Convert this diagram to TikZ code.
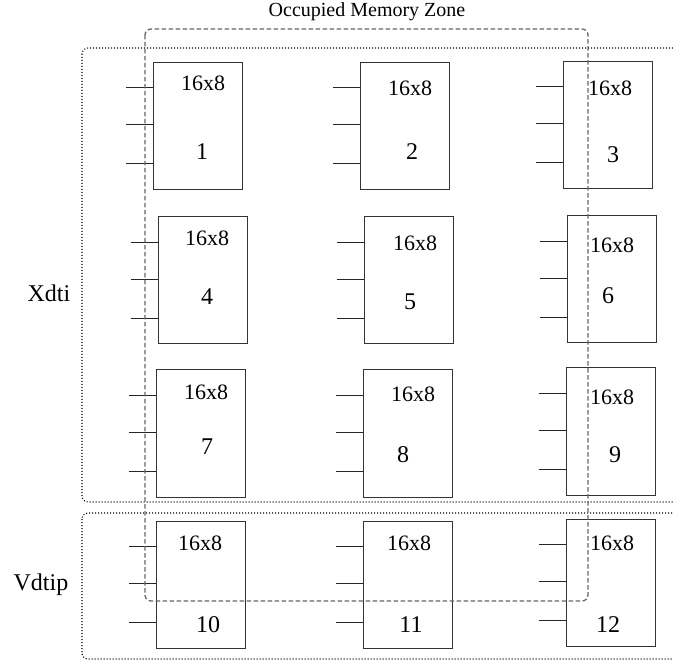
\documentclass[tikz,border=0pt]{standalone}
\usepackage{fontspec}
\setmainfont{Liberation Serif}
\usetikzlibrary{calc}
\begin{document}
\begin{tikzpicture}[x=1pt,y=-1pt,
  memblock/.style={draw=black!80, line width=1pt, minimum width=89pt, minimum height=127pt, inner sep=0pt},
  stub/.style={draw=black!85, line width=1pt},
  sizelbl/.style={font=\fontsize{22}{24}\selectfont, inner sep=0pt},
  numlbl/.style={font=\fontsize{24}{26}\selectfont, inner sep=0pt},
  grouplbl/.style={font=\fontsize{24}{26}\selectfont, inner sep=0pt},
  titlelbl/.style={font=\fontsize{20}{22}\selectfont, inner sep=0pt},
  zone/.style={draw=black!60, line width=1.3pt, dash pattern=on 4.5pt off 2.5pt, rounded corners=6pt},
  region/.style={draw=black, line width=1.1pt, dash pattern=on 1pt off 2pt, rounded corners=6pt}]
\useasboundingbox (0,0) rectangle (673,663);
\clip (0,0) rectangle (673,663);

% register groups
\draw[region] (82,48) rectangle (700,502);
\draw[region] (82,513) rectangle (700,659);
\node[grouplbl] (xdti) at (49,293) {Xdti};
\node[grouplbl] (vdtip) at (41,585) {Vdtip};

% 16x8 memory blocks
\foreach \n/\cx/\cy in {1/198/126, 2/404.5/126, 3/608/125,
                        4/202.5/280.5, 5/408.5/280.5, 6/611.5/279.5,
                        7/200.5/433.5, 8/407.5/433.5, 9/610.5/431.5,
                        10/201/584.5, 11/407.5/584.5, 12/610.5/582.5}{
  \node[memblock] (b\n) at (\cx,\cy) {};
  \foreach \k/\dy in {1/26, 2/63, 3/102}{
    \coordinate (b\n s\k) at ([xshift=-27pt,yshift=-\dy pt]b\n.north west);
    \draw[stub] (b\n s\k) -- (b\n s\k -| b\n.west);
  }
}

% size and index labels
\foreach \n/\sx/\sy/\nx/\ny in {1/203/83/202/152, 2/410/88/412/152, 3/610/88/613/155,
                                4/207/238/207/297, 5/415/243/410/302, 6/612/245/608/296,
                                7/206/392/207/447, 8/413/394/403/455, 9/612/397/615/455,
                                10/200/543/208/625, 11/409/543/411/625, 12/612/543/608/625}{
  \node[sizelbl] (s\n) at (\sx,\sy) {16x8};
  \node[numlbl] (n\n) at (\nx,\ny) {\n};
}

% occupied zone
\draw[zone] (145,29) rectangle (588,601);
\node[titlelbl] (title) at (367,12) {Occupied Memory Zone};
\end{tikzpicture}
\end{document}
